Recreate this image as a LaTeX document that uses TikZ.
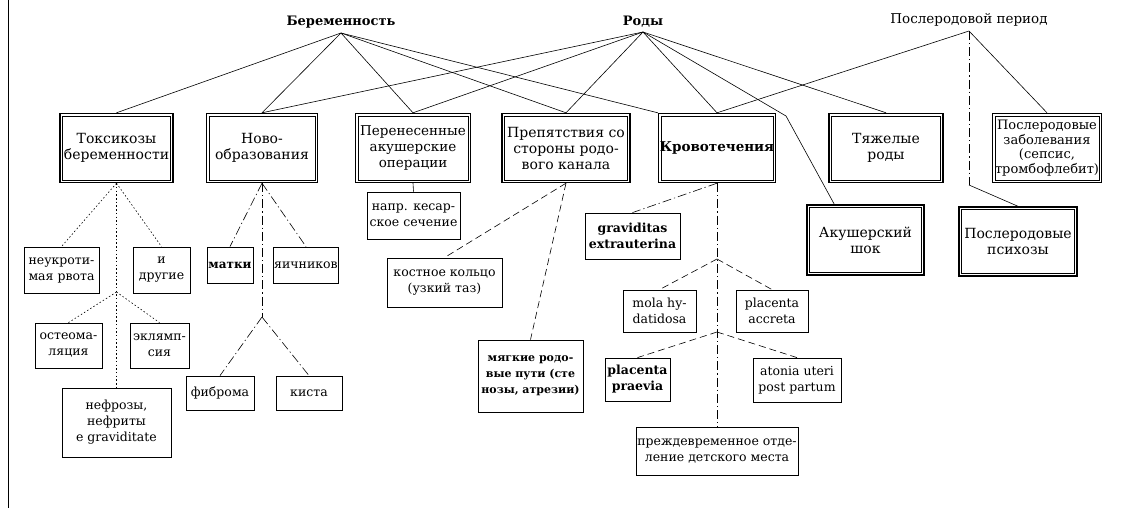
\documentclass[tikz,border=0pt]{standalone}
\usepackage{fontspec}
\setmainfont{DejaVu Serif}
\begin{document}
\begin{tikzpicture}[x=1pt, y=-1pt, line width=0.6pt,
  sz/.style 2 args={minimum width=#1pt, minimum height=#2pt},
  bigbox/.style={draw, line width=1.4pt, align=center, inner sep=1pt, font=\fontsize{14}{16}\selectfont,
    path picture={\draw[line width=0.5pt] ([shift={(2.5pt,-2.5pt)}]path picture bounding box.north west) rectangle ([shift={(-2.5pt,2.5pt)}]path picture bounding box.south east);}},
  smallbox/.style={draw, line width=0.8pt, align=center, inner sep=1pt, font=\fontsize{12.5}{16}\selectfont},
  hdr/.style={anchor=south, inner ysep=4pt, font=\fontsize{13.5}{15}\selectfont},
  dotline/.style={dash pattern=on 1.5pt off 2.2pt},
  dashline/.style={dash pattern=on 7pt off 4pt},
  dashdotline/.style={dash pattern=on 9pt off 3pt on 1.2pt off 3pt}]

  \useasboundingbox (0,0) rectangle (1126,508);
  \draw[line width=1pt] (8,0) -- (8,508);

  % headers
  \node[hdr, font=\fontsize{13}{15}\selectfont\bfseries] (preg) at (341,33) {Беременность};
  \node[hdr, font=\fontsize{13}{15}\selectfont\bfseries] (birth) at (643,32) {Роды};
  \node[hdr] (post) at (969,31) {Послеродовой период};

  % main row
  \node[bigbox, sz={113}{69}] (tox) at (116.5,148) {Токсикозы\\беременности};
  \node[bigbox, sz={111}{69}] (neo) at (262,148) {Ново-\\образования};
  \node[bigbox, sz={115}{69}, font=\fontsize{13.5}{16}\selectfont] (oper) at (413,148) {Перенесенные\\акушерские\\операции};
  \node[bigbox, sz={128}{69}] (obst) at (566,148) {Препятствия со\\стороны родо-\\вого канала};
  \node[bigbox, sz={117}{69}, font=\fontsize{13.5}{16}\selectfont\bfseries] (bleed) at (717,148) {Кровотечения};
  \node[bigbox, sz={114}{69}] (hard) at (886,148) {Тяжелые\\роды};
  \node[bigbox, sz={109}{69}, font=\fontsize{13}{14.5}\selectfont] (pdis) at (1047,148) {Послеродовые\\заболевания\\(сепсис,\\тромбофлебит)};
  \node[bigbox, sz={117}{70}] (shock) at (865.5,240) {Акушерский\\шок};
  \node[bigbox, sz={118}{69}] (psych) at (1018,241.5) {Послеродовые\\психозы};

  % toxicoses
  \node[smallbox, sz={75}{46}] (vom) at (61.5,270) {неукроти-\\мая рвота};
  \node[smallbox, sz={57}{46}] (other) at (161.5,270) {и\\другие};
  \node[smallbox, sz={67}{45}] (osteo) at (68.5,345.5) {остеома-\\ляция};
  \node[smallbox, sz={59}{45}] (eclam) at (159.5,345.5) {эклямп-\\сия};
  \node[smallbox, sz={109}{69}] (nephr) at (116.5,422.5) {нефрозы,\\нефриты\\e graviditate};

  % neoplasms
  \node[smallbox, sz={46}{36}, font=\fontsize{12}{16}\selectfont\bfseries] (uter) at (230,265) {матки};
  \node[smallbox, sz={64}{36}] (ovar) at (306,265) {яичников};
  \node[smallbox, sz={68}{34}] (fibr) at (220,393) {фиброма};
  \node[smallbox, sz={66}{34}] (cyst) at (309,393) {киста};

  % operations, obstacles
  \node[smallbox, sz={93}{47}] (caes) at (413.5,215.5) {напр. кесар-\\ское сечение};
  \node[smallbox, sz={115}{49}] (pelv) at (444.5,282.5) {костное кольцо\\(узкий таз)};
  \node[smallbox, sz={105}{72}, font=\fontsize{11}{16}\selectfont\bfseries] (soft) at (530.5,376) {мягкие родо-\\вые пути (сте\\нозы, атрезии)};

  % bleeding
  \node[smallbox, sz={95}{46}, font=\fontsize{12.5}{16}\selectfont\bfseries] (extra) at (632.5,236) {graviditas\\extrauterina};
  \node[smallbox, sz={73}{42}] (mola) at (659.5,311) {mola hy-\\datidosa};
  \node[smallbox, sz={72}{42}] (accr) at (772,311) {placenta\\accreta};
  \node[smallbox, sz={65}{43}, font=\fontsize{12.5}{16}\selectfont\bfseries] (praev) at (637.5,379.5) {placenta\\praevia};
  \node[smallbox, sz={88}{44}] (aton) at (797,380) {atonia uteri\\post partum};
  \node[smallbox, sz={162}{48}] (abru) at (717,451) {преждевременное отде-\\ление детского места};

  % connectors from the headers
  \foreach \t in {tox, neo, oper, obst}
    \draw (preg.south) -- (\t.north);
  \draw (preg.south) -- (bleed.north west);
  \foreach \t in {neo, oper, obst, bleed, hard}
    \draw (birth.south) -- (\t.north);
  \coordinate (sbend) at (786,116);
  \coordinate (sin) at ([xshift=28pt]shock.north west);
  \draw (birth.south) -- (sbend) -- (sin);
  \draw (post.south) -- (bleed.north);
  \draw (post.south) -- (pdis.north);
  \coordinate (pbend) at (969,185);
  \draw[dashdotline] (post.south) -- (pbend);
  \draw (pbend) -- (psych.north);

  % branches
  \coordinate (t1) at (116.5,292);
  \draw[dotline] (tox.south) -- (vom.north);
  \draw[dotline] (tox.south) -- (other.north);
  \draw[dotline] (tox.south) -- (nephr.north);
  \draw[dotline] (t1) -- (osteo.north);
  \draw[dotline] (t1) -- (eclam.north);

  \coordinate (n1) at (262,317);
  \draw[dashdotline] (neo.south) -- (uter.north);
  \draw[dashdotline] (neo.south) -- (ovar.north);
  \draw[dashdotline] (neo.south) -- (n1);
  \draw[dashdotline] (n1) -- (fibr.north);
  \draw[dashdotline] (n1) -- (cyst.north);

  \draw (oper.south) -- (caes.north);
  \draw[dashline] (obst.south) -- (pelv.north);
  \draw[dashline] (obst.south) -- (soft.north);

  \coordinate (k1) at (717,259);
  \coordinate (k2) at (717,332);
  \draw[dashdotline] (bleed.south) -- (extra.north);
  \draw[dashdotline] (bleed.south) -- (abru.north);
  \draw[dashline] (k1) -- (mola.north);
  \draw[dashline] (k1) -- (accr.north);
  \draw[dashline] (k2) -- (praev.north);
  \draw[dashline] (k2) -- (aton.north);
\end{tikzpicture}
\end{document}
